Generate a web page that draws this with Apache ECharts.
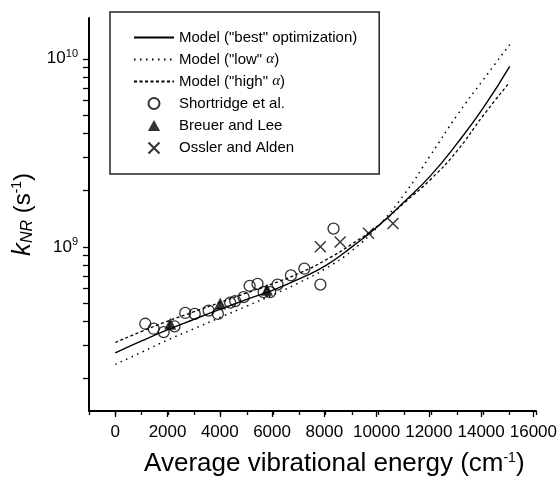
<!DOCTYPE html>
<html><head><meta charset="utf-8">
<script src="https://cdn.jsdelivr.net/npm/echarts@6/dist/echarts.min.js"></script>
<style>html,body{margin:0;padding:0;background:#fff}#c{width:560px;height:483px}</style>
</head><body><div id="c"></div>
<script>
// ---- data ----
const energy = [0,1000,2000,3000,4000,5000,6000,7000,8000,9000,10000,11000,12000,13000,14000,15000];
const modelBest = [2.73e8,3.16e8,3.63e8,4.12e8,4.66e8,5.25e8,5.89e8,6.76e8,7.94e8,1.00e9,1.29e9,1.74e9,2.40e9,3.55e9,5.50e9,9.12e9];
const modelLow  = [2.37e8,2.75e8,3.20e8,3.67e8,4.22e8,4.84e8,5.56e8,6.46e8,7.67e8,9.55e8,1.29e9,1.91e9,3.09e9,5.01e9,7.76e9,1.19e10];
const modelHigh = [3.10e8,3.55e8,4.03e8,4.52e8,5.07e8,5.69e8,6.38e8,7.24e8,8.51e8,1.035e9,1.30e9,1.72e9,2.29e9,3.24e9,5.01e9,7.50e9];
const shortridgeE = [1140,1460,1840,2250,2660,3020,3550,3900,4370,4560,4880,5110,5410,5640,5890,6170,6680,7190,7800,8300];
const shortridgeK = [3.9e8,3.67e8,3.52e8,3.78e8,4.45e8,4.4e8,4.58e8,4.4e8,5.05e8,5.15e8,5.4e8,6.2e8,6.35e8,5.75e8,5.75e8,6.3e8,7.05e8,7.65e8,6.3e8,1.25e9];
const breuerE = [2090,3990,5770];
const breuerK = [3.9e8,4.99e8,5.91e8];
const osslerE = [7800,8550,9630,10560];
const osslerK = [1.0e9,1.06e9,1.18e9,1.33e9];
const xTickLabels = [0,2000,4000,6000,8000,10000,12000,14000,16000];
const yMinorTicks = [2e8,3e8,4e8,5e8,6e8,7e8,8e8,9e8,2e9,3e9,4e9,5e9,6e9,7e9,8e9,9e9];
const yLabelTicks = [1e9,1e10];
const yLabelText = ['10{s|9}','10{s|10}'];
const seriesNames = ['Model ("best" optimization)','Model ("low" α)','Model ("high" α)','Shortridge et al.','Breuer and Lee','Ossler and Alden'];

// ---- axes helpers ----
const LOG_MIN = 8.127, LOG_MAX = 10.217, STEP = 0.001;
const nCat = Math.round((LOG_MAX - LOG_MIN) / STEP) + 1;
const yCats = [];
for (let i = 0; i < nCat; i++) yCats.push(String(i));
const idxOf = v => Math.round((Math.log10(v) - LOG_MIN) / STEP);
const tickIdx = new Set(yMinorTicks.concat(yLabelTicks).map(idxOf));
const labelIdx = new Map(yLabelTicks.map((v, k) => [idxOf(v), yLabelText[k]]));

const FONT = 'Liberation Sans';
const TRI = 'path://M5,0L10,9L0,9Z';
const CROSS = 'path://M0,0L10,10M10,0L0,10';
const pair = (xs, ys) => xs.map((x, i) => [x, ys[i]]);
const noMark = {color: 'rgba(0,0,0,0)', borderColor: 'rgba(0,0,0,0)', borderWidth: 0};

const chart = echarts.init(document.getElementById('c'), null, {renderer: 'canvas'});
chart.setOption({
  backgroundColor: '#fff',
  animation: false,
  textStyle: {fontFamily: FONT, color: '#000'},
  grid: [
    {left: 89, right: 24, top: 18, bottom: 72},
    {left: 115.3, right: 24, top: 18, bottom: 72}
  ],
  xAxis: [
    {type: 'value', gridIndex: 0, min: -1000, max: 16000, interval: 1000,
     axisLine: {show: true, onZero: false, lineStyle: {color: '#000', width: 2}},
     axisTick: {show: true, length: 4, lineStyle: {color: '#000', width: 1.3}},
     axisLabel: {show: false}, splitLine: {show: false}},
    {type: 'value', gridIndex: 1, min: 0, max: 16000, interval: 2000,
     axisLine: {show: false, onZero: false},
     axisTick: {show: true, length: 6, lineStyle: {color: '#000', width: 1.3}},
     axisLabel: {show: true, margin: 13, fontSize: 17, color: '#000', fontFamily: FONT,
                 formatter: v => xTickLabels.includes(v) ? String(v) : ''},
     splitLine: {show: false},
     name: 'Average vibrational energy (cm{s|-1})', nameLocation: 'middle', nameGap: 40,
     nameTextStyle: {fontSize: 26, color: '#000', fontFamily: FONT, padding: [0, 0, 0, 20],
       rich: {s: {fontSize: 14, verticalAlign: 'top', padding: [0, 0, 9, 0], fontFamily: FONT}}}}
  ],
  yAxis: [
    {type: 'log', gridIndex: 0, min: Math.pow(10, LOG_MIN), max: Math.pow(10, LOG_MAX), logBase: 10,
     axisLine: {show: true, onZero: false, lineStyle: {color: '#000', width: 2}},
     axisTick: {show: false}, axisLabel: {show: false}, splitLine: {show: false}, minorTick: {show: false}},
    {type: 'category', gridIndex: 0, position: 'left', data: yCats, boundaryGap: false,
     axisLine: {show: false, onZero: false},
     axisTick: {show: true, length: 6, interval: (i) => tickIdx.has(i), lineStyle: {color: '#000', width: 1.3}},
     axisLabel: {show: true, margin: 11, fontSize: 17, color: '#000', fontFamily: FONT,
       interval: (i) => labelIdx.has(i),
       formatter: (v) => labelIdx.get(Number(v)) || '',
       rich: {s: {fontSize: 11, verticalAlign: 'top', padding: [0, 0, 9, 0], fontFamily: FONT}}},
     splitLine: {show: false},
     name: '{k|k}{sub|NR} (s{s|-1})', nameLocation: 'middle', nameRotate: 90, nameGap: 52,
     nameTextStyle: {fontSize: 24, color: '#000', fontFamily: FONT,
       rich: {
         k: {fontSize: 26, fontStyle: 'italic', fontFamily: FONT},
         sub: {fontSize: 16, fontStyle: 'italic', verticalAlign: 'bottom', padding: [10, 0, 0, 0], fontFamily: FONT},
         s: {fontSize: 14, verticalAlign: 'top', padding: [0, 0, 10, 0], fontFamily: FONT}
       }}},
    {type: 'value', gridIndex: 1, show: false}
  ],
  legend: {
    orient: 'vertical', left: 110, top: 12, align: 'left',
    padding: [18, 22, 18, 23], itemWidth: 40, itemHeight: 11, itemGap: 7,
    borderColor: '#222', borderWidth: 1.5, backgroundColor: '#fff',
    data: [
      {name: seriesNames[0], itemStyle: noMark},
      {name: seriesNames[1], itemStyle: noMark},
      {name: seriesNames[2], itemStyle: noMark},
      {name: seriesNames[3]},
      {name: seriesNames[4], icon: TRI},
      {name: seriesNames[5], icon: CROSS}
    ],
    formatter: n => n.replace('α', '{i|α}'),
    textStyle: {fontSize: 15, color: '#000', fontFamily: FONT,
      rich: {i: {fontSize: 15, fontStyle: 'italic', fontFamily: 'Liberation Serif'}}}
  },
  series: [
    {name: seriesNames[0], type: 'line', xAxisIndex: 0, yAxisIndex: 0, smooth: true, symbol: 'none',
     itemStyle: noMark,
     lineStyle: {color: '#000', width: 1.4, type: 'solid'}, data: pair(energy, modelBest), z: 3},
    {name: seriesNames[1], type: 'line', xAxisIndex: 0, yAxisIndex: 0, smooth: true, symbol: 'none',
     itemStyle: noMark,
     lineStyle: {color: '#000', width: 1.5, type: [1.5, 4.5]}, data: pair(energy, modelLow), z: 3},
    {name: seriesNames[2], type: 'line', xAxisIndex: 0, yAxisIndex: 0, smooth: true, symbol: 'none',
     itemStyle: noMark,
     lineStyle: {color: '#000', width: 1.3, type: [3, 2.5]}, data: pair(energy, modelHigh), z: 3},
    {name: seriesNames[3], type: 'scatter', xAxisIndex: 0, yAxisIndex: 0, symbol: 'circle', symbolSize: 11,
     itemStyle: {color: 'rgba(255,255,255,0)', borderColor: '#000', borderWidth: 1.3},
     data: pair(shortridgeE, shortridgeK), z: 4},
    {name: seriesNames[4], type: 'scatter', xAxisIndex: 0, yAxisIndex: 0, symbol: TRI, symbolSize: 12,
     itemStyle: {color: '#000'}, data: pair(breuerE, breuerK), z: 5},
    {name: seriesNames[5], type: 'scatter', xAxisIndex: 0, yAxisIndex: 0,
     symbol: CROSS, symbolSize: 11,
     itemStyle: {color: 'none', borderColor: '#000', borderWidth: 1.4},
     data: pair(osslerE, osslerK), z: 5}
  ]
});
</script></body></html>
